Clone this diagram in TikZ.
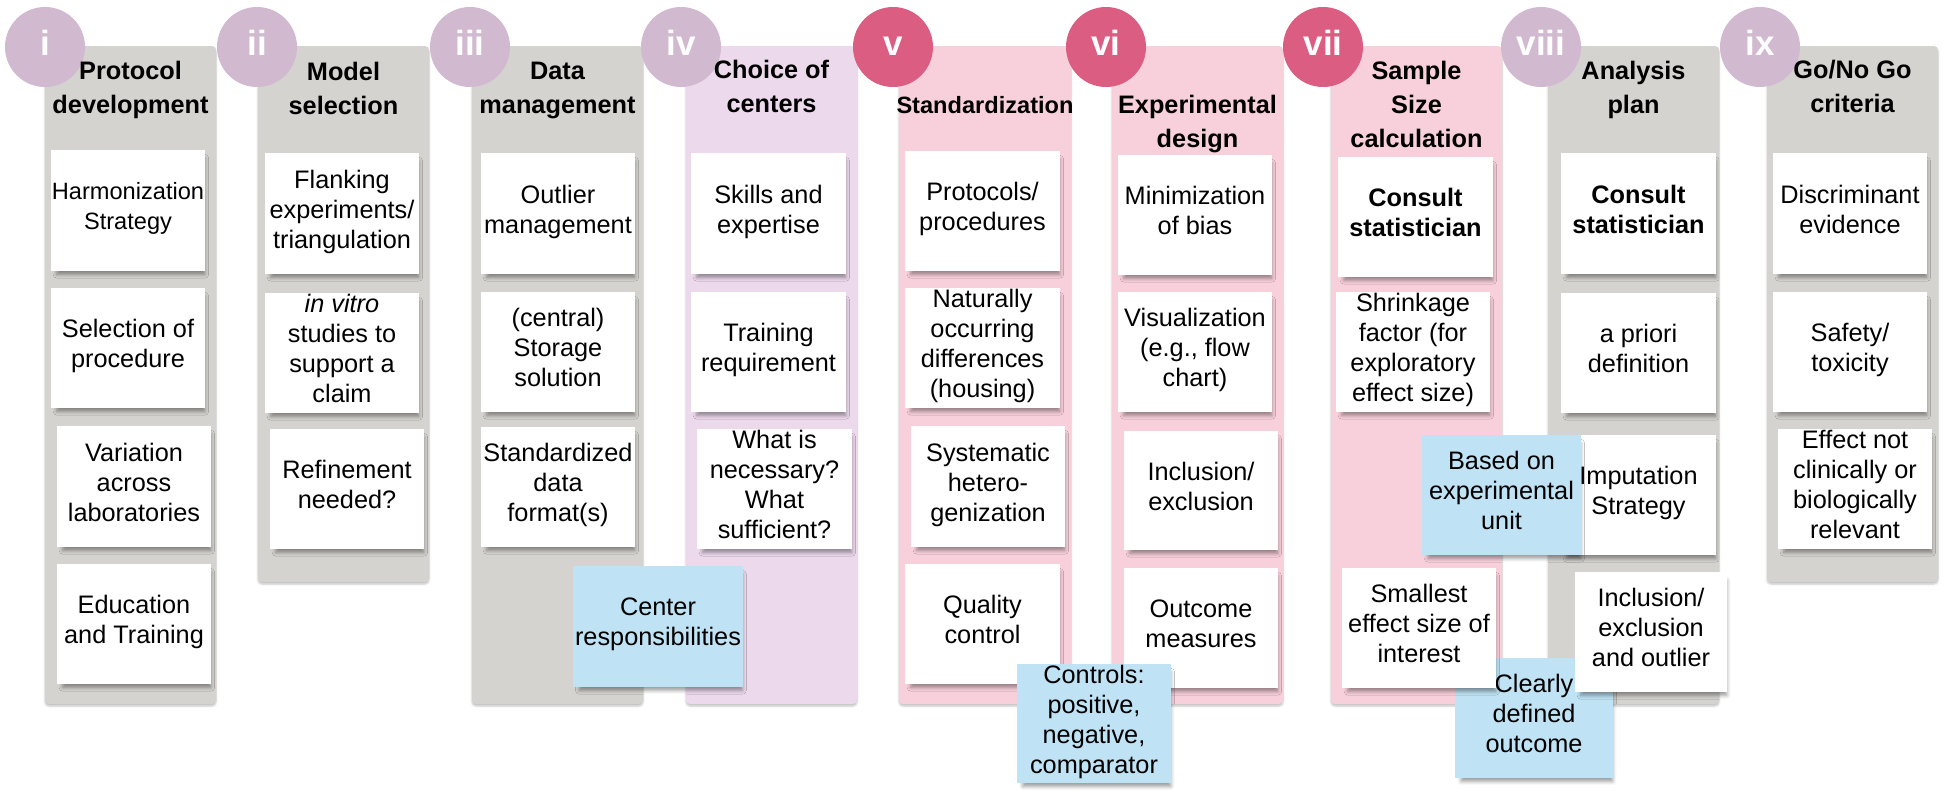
\documentclass[tikz,border=0pt]{standalone}
\usepackage{fontspec}
\setmainfont{Liberation Sans}
\usetikzlibrary{shadows.blur}
\definecolor{pgray}{HTML}{D4D3CF}
\definecolor{plav}{HTML}{ECD9EC}
\definecolor{ppink}{HTML}{F8D0DB}
\definecolor{cmauve}{HTML}{D1B9CF}
\definecolor{cpink}{HTML}{DB5E82}
\definecolor{sblue}{HTML}{BFE3F4}
\tikzset{
  panel/.style={rectangle, rounded corners=4pt, inner sep=0pt, outer sep=0pt,
    blur shadow={shadow xshift=0pt, shadow yshift=-2pt, shadow blur radius=2pt, shadow opacity=25}},
  sticky/.style={rectangle, fill=white, inner sep=0pt, outer sep=0pt, align=center,
    font=\fontsize{25.3}{30}\selectfont,
    execute at begin node=\strut, execute at end node=\strut,
    blur shadow={shadow xshift=3pt, shadow yshift=-6pt, shadow scale=0.96, shadow blur radius=4pt, shadow opacity=40}},
  bluesticky/.style={sticky, fill=sblue},
  stext/.style={inner sep=0pt, align=center, font=\fontsize{25.3}{30}\selectfont,
    execute at begin node=\strut, execute at end node=\strut},
  title/.style={inner sep=0pt, align=center, font=\fontsize{25.3}{34}\selectfont\bfseries,
    execute at begin node=\strut, execute at end node=\strut},
  numcirc/.style={circle, minimum size=80pt, inner sep=0pt},
  numtext/.style={anchor=base, text=white, inner sep=0pt, font=\fontsize{35}{38}\selectfont\bfseries}
}
\newcommand\Stk[7][sticky]{\node[#1, minimum width={(#4-#2)*1pt}, minimum height={(#5-#3)*1pt}] (#6) at ({(#2+#4)/2},{(#3+#5)/2}) {#7};}
\newcommand\Pnl[6]{\node[panel, fill=#6, minimum width={(#3-#1)*1pt}, minimum height={(#4-#2)*1pt}] (#5) at ({(#1+#3)/2},{(#2+#4)/2}) {};}
\newcommand\Num[4]{\node[numcirc, fill=#4] (c#1) at (#2,47) {}; \node[numtext] (n#1) at (#2,55) {#3};}
\begin{document}
\begin{tikzpicture}[x=1pt,y=-1pt]
\useasboundingbox (0,0) rectangle (1943,798);
% panels
\Pnl{45}{46}{216}{704}{pi}{pgray}
\Pnl{258}{46}{429}{582}{pii}{pgray}
\Pnl{472}{46}{643}{704}{piii}{pgray}
\Pnl{686}{46}{857}{704}{piv}{plav}
\Pnl{899}{46}{1071}{704}{pv}{ppink}
\Pnl{1112}{46}{1283}{704}{pvi}{ppink}
\Pnl{1331}{46}{1502}{704}{pvii}{ppink}
\Pnl{1548}{46}{1719}{704}{pviii}{pgray}
\Pnl{1767}{46}{1938}{582}{pix}{pgray}
% circles
\Num{1}{45}{i}{cmauve}
\Num{2}{257}{ii}{cmauve}
\Num{3}{470}{iii}{cmauve}
\Num{4}{681}{iv}{cmauve}
\Num{5}{893}{v}{cpink}
\Num{6}{1106}{vi}{cpink}
\Num{7}{1323}{vii}{cpink}
\Num{8}{1541}{viii}{cmauve}
\Num{9}{1760}{ix}{cmauve}
% titles
\node[title] (t1) at (130.5,92) {Protocol\\development};
\node[title] (t2) at (343.5,93) {Model\\selection};
\node[title] (t3) at (557.5,93) {Data\\management};
\node[title] (t4) at (771.5,91) {Choice of\\centers};
\node[title, font=\fontsize{23.6}{34}\selectfont\bfseries] (t5) at (985,107) {Standardization};
\node[title] (t6) at (1197.5,126) {Experimental\\design};
\node[title] (t7) at (1416.5,109) {Sample\\Size\\calculation};
\node[title] (t8) at (1633.5,92) {Analysis\\plan};
\node[title] (t9) at (1852.5,91) {Go/No Go\\criteria};
% blue note underneath
\Stk[bluesticky]{1455}{658}{1613}{778}{b72}{Clearly\\defined\\outcome}
% column i
\Stk[sticky, font=\fontsize{23.6}{30}\selectfont]{51}{150}{205}{271}{s11}{Harmonization\\Strategy}
\Stk{51}{288}{205}{408}{s12}{Selection of\\procedure}
\Stk{57}{426}{211}{547}{s13}{Variation\\across\\laboratories}
\Stk{57}{564}{211}{684}{s14}{Education\\and Training}
% column ii
\Stk{265}{153}{419}{274}{s21}{Flanking\\experiments/\\triangulation}
\Stk{265}{293}{419}{413}{s22}{\textit{in vitro}\\studies to\\support a\\claim}
\Stk{270}{429}{424}{549}{s23}{Refinement\\needed?}
% column iii
\Stk{481}{153}{635}{274}{s31}{Outlier\\management}
\Stk{481}{292}{635}{412}{s32}{(central)\\Storage\\solution}
\Stk{481}{427}{635}{547}{s33}{Standardized\\data\\format(s)}
% column iv
\Stk{691}{153}{846}{274}{s41}{Skills and\\expertise}
\Stk{691}{292}{846}{412}{s42}{Training\\requirement}
\Stk{697}{429}{852}{549}{s43}{What is\\necessary?\\What\\sufficient?}
\Stk[bluesticky]{573}{566}{743}{687}{b31}{Center\\responsibilities}
% column v
\Stk{905}{151}{1060}{271}{s51}{Protocols/\\procedures}
\Stk{905}{288}{1060}{408}{s52}{Naturally\\occurring\\differences\\(housing)}
\Stk{911}{426}{1065}{547}{s53}{Systematic\\hetero-\\genization}
\Stk{905}{564}{1060}{684}{s54}{Quality\\control}
% column vi
\Stk{1118}{155}{1272}{275}{s61}{Minimization\\of bias}
\Stk{1118}{292}{1272}{412}{s62}{Visualization\\(e.g., flow\\chart)}
\Stk{1124}{431}{1278}{550}{s63}{Inclusion/\\exclusion}
\Stk{1124}{568}{1278}{688}{s64}{Outcome\\measures}
\Stk[bluesticky]{1017}{664}{1171}{783}{b51}{Controls:\\positive,\\negative,\\comparator}
% column vii
\Stk[sticky, font=\fontsize{25.3}{30}\selectfont\bfseries]{1338}{157}{1493}{277}{s71}{Consult\\statistician}
\Stk{1336}{292}{1490}{412}{s72}{Shrinkage\\factor (for\\exploratory\\effect size)}
\Stk{1342}{568}{1496}{688}{s73}{Smallest\\effect size of\\interest}
% column viii
\Stk[sticky, font=\fontsize{25.3}{30}\selectfont\bfseries]{1561}{153}{1716}{274}{s81}{Consult\\statistician}
\Stk{1561}{293}{1716}{413}{s82}{a priori\\definition}
\Stk{1561}{435}{1716}{555}{s83}{}
\Stk{1575}{572}{1727}{692}{s84}{Inclusion/\\exclusion\\and outlier}
\Stk[bluesticky]{1422}{435}{1581}{555}{b71}{Based on\\experimental\\unit}
\node[stext] (s83t) at (s83.center) {Imputation\\Strategy};
% column ix
\Stk{1773}{153}{1927}{274}{s91}{Discriminant\\evidence}
\Stk{1773}{292}{1927}{412}{s92}{Safety/\\toxicity}
\Stk{1778}{429}{1932}{549}{s93}{Effect not\\clinically or\\biologically\\relevant}
\end{tikzpicture}
\end{document}
